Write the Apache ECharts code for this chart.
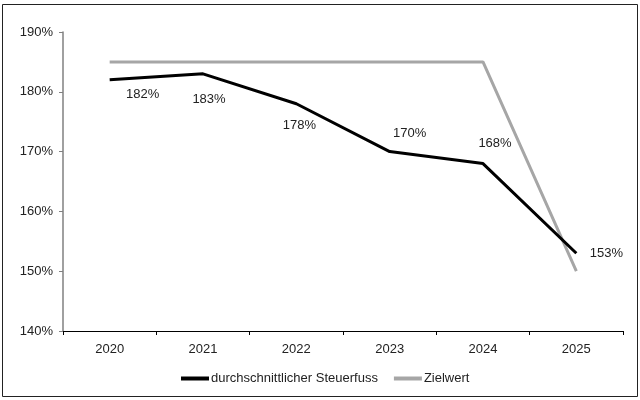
<!DOCTYPE html>
<html>
<head>
<meta charset="utf-8">
<script src="https://cdn.jsdelivr.net/npm/echarts@6/dist/echarts.min.js"></script>
<style>
  html, body { margin: 0; padding: 0; background: #fff; }
  #chart { width: 640px; height: 400px; }
</style>
</head>
<body>
<div id="chart"></div>
<script>
// Daten
const years = ["2020", "2021", "2022", "2023", "2024", "2025"];
const steuerfuss = [182, 183, 178, 170, 168, 153];
const zielwert = [185, 185, 185, 185, 185, 150];

// Label-Verschiebungen (Pixel) wie im Original
const labelOffsets = [[33, 15], [6, 26], [3, 22], [20, -18], [12, -20], [30, 0]];

const chart = echarts.init(document.getElementById("chart"));

const txt = { color: "#222", fontFamily: "Liberation Sans, Arial, sans-serif", fontSize: 13 };

const option = {
  animation: false,
  graphic: [{
    type: "rect",
    shape: { x: 2.5, y: 4.5, width: 635, height: 392 },
    style: { fill: "none", stroke: "#222", lineWidth: 1 },
    silent: true,
  }],
  grid: { left: 63, right: 17, top: 32, bottom: 69 },
  legend: {
    bottom: 10,
    left: 176,
    itemWidth: 28,
    itemHeight: 4,
    itemGap: 16,
    icon: "rect",
    textStyle: { ...txt, padding: [0, 0, 0, -3] },
    data: ["durchschnittlicher Steuerfuss", "Zielwert"],
  },
  xAxis: {
    type: "category",
    data: years,
    boundaryGap: true,
    axisLine: { lineStyle: { color: "#000", width: 1 } },
    axisTick: { show: true, length: 4, lineStyle: { color: "#000" } },
    axisLabel: { ...txt, margin: 12 },
  },
  yAxis: {
    type: "value",
    min: 140,
    max: 190,
    interval: 10,
    splitLine: { show: false },
    axisLine: { show: true, lineStyle: { color: "#808080", width: 1.5 } },
    axisTick: { show: true, length: 4, lineStyle: { color: "#808080" } },
    axisLabel: { ...txt, margin: 10, formatter: "{value}%" },
  },
  series: [
    {
      name: "Zielwert",
      type: "line",
      data: zielwert,
      symbol: "none",
      lineStyle: { color: "#a6a6a6", width: 3 },
      itemStyle: { color: "#a6a6a6" },
      z: 2,
    },
    {
      name: "durchschnittlicher Steuerfuss",
      type: "line",
      data: steuerfuss.map((v, i) => ({
        value: v,
        label: { offset: labelOffsets[i] },
      })),
      symbol: "circle",
      symbolSize: 0.1,
      showSymbol: true,
      lineStyle: { color: "#000", width: 3 },
      itemStyle: { color: "#000" },
      label: {
        show: true,
        position: "inside",
        formatter: "{c}%",
        ...txt,
      },
      z: 3,
    },
  ],
};

chart.setOption(option);
</script>
</body>
</html>
